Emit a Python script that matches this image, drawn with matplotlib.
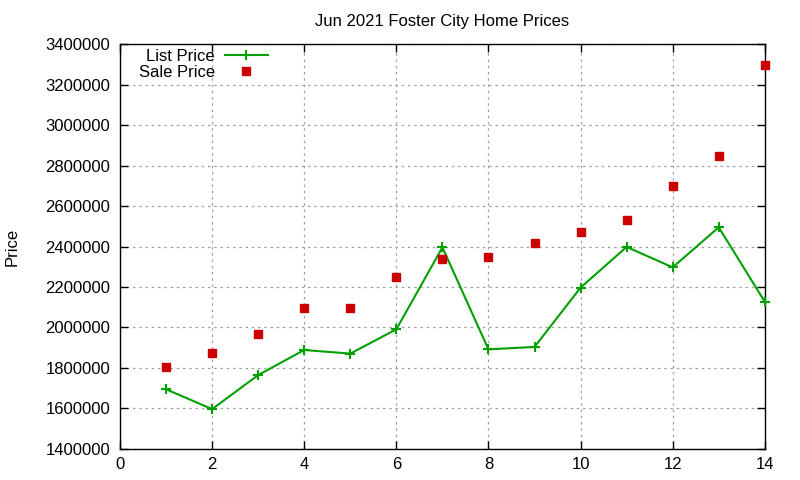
import matplotlib
matplotlib.use("Agg")
import matplotlib.pyplot as plt

plt.rcParams['font.family'] = ['Liberation Sans', 'DejaVu Sans']

x = [1, 2, 3, 4, 5, 6, 7, 8, 9, 10, 11, 12, 13, 14]
list_price = [1695000, 1597000, 1765000, 1889000, 1871000, 1991000, 2396000,
              1892000, 1904000, 2197000, 2398000, 2297000, 2495000, 2127000]
sale_price = [1806000, 1876000, 1969000, 2098000, 2098000, 2251000, 2338000,
              2350000, 2419000, 2473000, 2532000, 2700000, 2848000, 3298000]
yticks = [1400000, 1600000, 1800000, 2000000, 2200000, 2400000, 2600000,
          2800000, 3000000, 3200000, 3400000]
xticks = [0, 2, 4, 6, 8, 10, 12, 14]

FS = 12

fig = plt.figure(figsize=(8, 4.8), dpi=100)
ax = fig.add_axes([0.15, 0.0646, 0.806, 0.8437])

ax.plot(x, list_price, color='#00a000', lw=1.5, marker='+', ms=7, mew=1.5,
        label='List Price', clip_on=False, zorder=3)
ax.plot(x, sale_price, color='#cc0000', ls='none', marker='s', ms=5.5,
        label='Sale Price', clip_on=False, zorder=3)

ax.set_xlim(0, 14)
ax.set_ylim(1400000, 3400000)
ax.set_xticks(xticks)
ax.set_yticks(yticks)
ax.set_xticklabels([str(v) for v in xticks])
ax.set_yticklabels([str(v) for v in yticks])
ax.tick_params(direction='in', length=6, width=1, top=True, right=True,
               labelsize=FS, pad=6)
ax.tick_params(axis='y', pad=7)
ax.grid(True, color='#a0a0a0', ls=(0, (2, 3)), lw=0.9)
for s in ax.spines.values():
    s.set_linewidth(1)

ax.set_title('Jun 2021 Foster City Home Prices', fontsize=FS, pad=13)
ax.set_ylabel('Price', fontsize=FS, labelpad=18.5)

leg = ax.legend(loc='upper right', bbox_to_anchor=(0.2295, 0.987), frameon=False,
                markerfirst=False, fontsize=FS, handlelength=2.6,
                borderaxespad=0, borderpad=0, labelspacing=0.05,
                handletextpad=0.6)
for t in leg.get_texts():
    t.set_ha('right')
leg._legend_box.align = 'right'

fig.savefig('out.png', dpi=100)
